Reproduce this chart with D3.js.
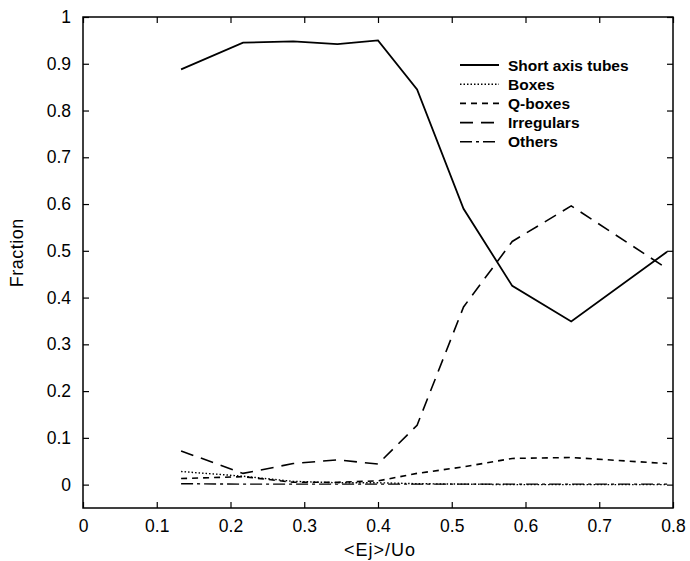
<!DOCTYPE html>
<html>
<head>
<meta charset="utf-8">
<script src="https://cdn.jsdelivr.net/npm/d3@7"></script>
<style>
  body { margin: 0; background: #fff; }
  text { font-family: "Liberation Sans", Arial, sans-serif; }
</style>
</head>
<body>
<div id="chart"></div>
<script>
// data
var xs = [0.133, 0.217, 0.285, 0.345, 0.4, 0.453, 0.516, 0.582, 0.662, 0.792];
var shortAxis = [0.888, 0.945, 0.948, 0.942, 0.95, 0.845, 0.59, 0.425, 0.349, 0.498];
var boxes     = [0.028, 0.018, 0.007, 0.004, 0.004, 0.002, 0.001, 0.0, 0.0, 0.0];
var qboxes    = [0.013, 0.017, 0.005, 0.005, 0.008, 0.024, 0.038, 0.056, 0.058, 0.045];
var irregular = [0.072, 0.024, 0.045, 0.053, 0.044, 0.127, 0.38, 0.52, 0.596, 0.462];
var others    = [0.002, 0.001, 0.001, 0.001, 0.001, 0.001, 0.001, 0.001, 0.001, 0.001];
var seriesNames = ["Short axis tubes", "Boxes", "Q-boxes", "Irregulars", "Others"];
var yTicks = [0, 0.1, 0.2, 0.3, 0.4, 0.5, 0.6, 0.7, 0.8, 0.9, 1];
var xTicks = [0, 0.1, 0.2, 0.3, 0.4, 0.5, 0.6, 0.7, 0.8];

var series = [shortAxis, boxes, qboxes, irregular, others];
var dashes = [null, "1.5,2", "6,5", "13,8", "12,4,3,4"];
var widths = [1.8, 1.4, 1.6, 1.6, 1.4];

var margin = {top: 17, right: 17, bottom: 53, left: 83},
    width = 690 - margin.left - margin.right,
    height = 561 - margin.top - margin.bottom;

var svg = d3.select("#chart")
  .append("svg")
    .attr("width", 690)
    .attr("height", 561)
  .append("g")
    .attr("transform", "translate(" + margin.left + "," + margin.top + ")");

var x = d3.scaleLinear().domain([0, 0.8]).range([0, width]);
var y = d3.scaleLinear().domain([-0.05, 1]).range([height, 0]);

// frame
svg.append("rect")
  .attr("width", width).attr("height", height)
  .attr("fill", "none").attr("stroke", "#000").attr("stroke-width", 1.5);

// axes: ticks pointing inward on all sides
var fmt = function(d) { return d === 0 ? "0" : d === 1 ? "1" : d3.format(".1f")(d); };
var axBottom = svg.append("g")
  .attr("transform", "translate(0," + height + ")")
  .call(d3.axisBottom(x).tickValues(xTicks).tickSizeInner(-6).tickSizeOuter(0).tickPadding(12).tickFormat(fmt));
var axTop = svg.append("g")
  .call(d3.axisTop(x).tickValues(xTicks).tickSizeInner(-6).tickSizeOuter(0).tickFormat(""));
var axLeft = svg.append("g")
  .call(d3.axisLeft(y).tickValues(yTicks).tickSizeInner(-6).tickSizeOuter(0).tickPadding(12).tickFormat(fmt));
var axRight = svg.append("g")
  .attr("transform", "translate(" + width + ",0)")
  .call(d3.axisRight(y).tickValues(yTicks).tickSizeInner(-6).tickSizeOuter(0).tickFormat(""));

[axBottom, axTop, axLeft, axRight].forEach(function(g) {
  g.select(".domain").remove();
  g.selectAll("line").attr("stroke", "#000").attr("stroke-width", 1.2);
  g.selectAll("text").attr("font-size", 17.5).attr("fill", "#000");
});

// axis titles
svg.append("text")
  .attr("x", x(0.4) + 2).attr("y", height + 48)
  .attr("text-anchor", "middle").attr("font-size", 18)
  .attr("letter-spacing", 1)
  .text("<Ej>/Uo");
svg.append("text")
  .attr("transform", "translate(" + (-60) + "," + (y(0.5) + 2) + ") rotate(-90)")
  .attr("text-anchor", "middle").attr("font-size", 18)
  .attr("letter-spacing", 0.5)
  .text("Fraction");

// lines
var line = d3.line()
  .x(function(d, i) { return x(xs[i]); })
  .y(function(d) { return y(d); });

series.forEach(function(s, k) {
  svg.append("path")
    .datum(s)
    .attr("fill", "none")
    .attr("stroke", "#000")
    .attr("stroke-width", widths[k])
    .attr("stroke-dasharray", dashes[k])
    .attr("d", line);
});

// legend
var legend = svg.append("g")
  .attr("transform", "translate(" + (460 - margin.left) + "," + (65 - margin.top) + ")");
seriesNames.forEach(function(name, k) {
  var row = legend.append("g").attr("transform", "translate(0," + (k * 19.2) + ")");
  row.append("line")
    .attr("x1", 0).attr("x2", 39).attr("y1", 0).attr("y2", 0)
    .attr("stroke", "#000")
    .attr("stroke-width", widths[k])
    .attr("stroke-dasharray", dashes[k]);
  row.append("text")
    .attr("x", 48).attr("y", 5.5)
    .attr("font-size", 15.5).attr("font-weight", "bold")
    .text(name);
});
</script>
</body>
</html>
